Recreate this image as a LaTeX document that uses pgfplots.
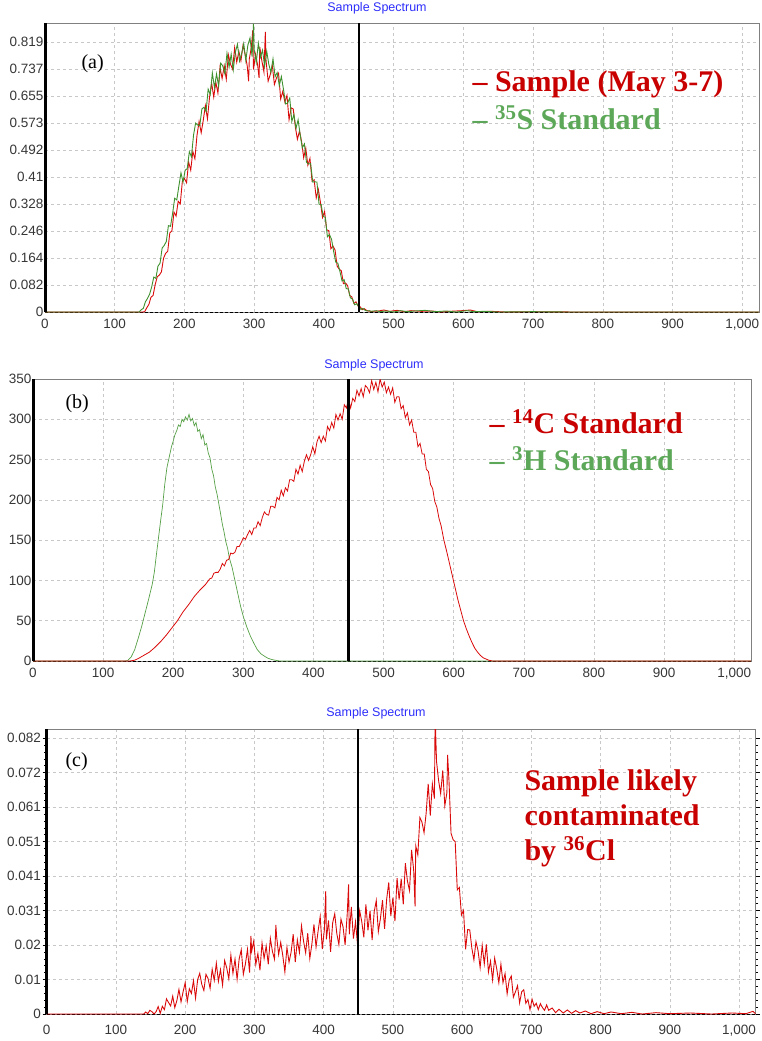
\documentclass[border=0pt]{standalone}
\usepackage{fontspec}
\setmainfont{Liberation Serif}
\newfontfamily\sansf{Liberation Sans}
\usepackage{pgfplots}
\pgfplotsset{compat=1.18}
\definecolor{cred}{RGB}{218,10,10}
\definecolor{cgreen}{RGB}{62,145,45}
\definecolor{cgreenb}{RGB}{85,160,70}
\definecolor{tred}{RGB}{200,0,0}
\definecolor{tgreen}{RGB}{92,168,88}
\definecolor{gridc}{RGB}{200,200,200}
\definecolor{titleblue}{RGB}{45,45,250}
\definecolor{ticktext}{RGB}{55,55,55}

\pgfplotsset{
  spec/.style={
    scale only axis, anchor=north west,
    xmin=0, xmax=1024,
    xtick={0,100,...,1000},
    xticklabels={0,100,200,300,400,500,600,700,800,900,{1,000}},
    grid=major,
    grid style={gridc, dash pattern=on 3pt off 3pt, line width=0.6pt},
    axis line style={draw=gray, line width=0.7pt},
    major tick length=0pt,
    tick label style={font=\sansf\fontsize{13.5}{13.5}\selectfont, text=ticktext},
    /pgf/number format/assume math mode=true,
    scaled y ticks=false,
    xticklabel style={yshift=-4pt},
    yticklabel style={inner sep=1.5pt},
  }
}

\begin{document}
\begin{tikzpicture}
\useasboundingbox (0,0) rectangle (762pt,-1041pt);

% ---------------- Panel (a) ----------------
\begin{axis}[spec, name=A, at={(45pt,-23pt)}, width=714pt, height=289pt,
  ymin=0, ymax=0.8766,
  ytick={0,0.0819,0.1638,0.2457,0.3276,0.4095,0.4914,0.5733,0.6552,0.7371,0.819},
  yticklabels={0,0.082,0.164,0.246,0.328,0.41,0.492,0.573,0.655,0.737,0.819}]
\draw[black, dash pattern=on 3pt off 2pt, line width=0.8pt] (axis cs:0,0) -- (axis cs:1024,0);
\addplot[cred, line width=0.9pt] coordinates {
(0,0) (140,0) (143,0.001) (146,0.013) (149,0.023) (152,0.045) (155,0.05) (158,0.083) (161,0.107) (164,0.112)
(167,0.122) (170,0.163) (173,0.178) (176,0.184) (179,0.24) (182,0.246) (185,0.303) (188,0.291) (191,0.336) (194,0.328)
(197,0.397) (200,0.405) (203,0.392) (206,0.455) (209,0.43) (212,0.487) (215,0.465) (218,0.536) (221,0.578) (224,0.544)
(227,0.582) (230,0.626) (233,0.586) (236,0.652) (239,0.694) (242,0.652) (245,0.697) (248,0.664) (251,0.742) (254,0.708)
(257,0.747) (260,0.706) (263,0.78) (266,0.752) (269,0.737) (272,0.802) (275,0.758) (278,0.791) (281,0.762) (284,0.809)
(287,0.782) (290,0.747) (292,0.70) (293,0.767) (296,0.804) (298,0.855) (299,0.735) (302,0.782) (305,0.748) (307,0.71)
(308,0.804) (311,0.762) (314,0.728) (316,0.85) (317,0.764) (320,0.70) (323,0.72) (326,0.748) (329,0.69) (332,0.71)
(335,0.724) (338,0.646) (341,0.669) (344,0.637) (347,0.657) (350,0.583) (353,0.619) (356,0.616) (359,0.562) (362,0.524)
(365,0.549) (368,0.517) (371,0.468) (374,0.497) (377,0.445) (380,0.466) (383,0.397) (386,0.401) (389,0.346) (392,0.372)
(395,0.333) (398,0.287) (401,0.305) (404,0.249) (407,0.247) (410,0.192) (413,0.2) (416,0.188) (419,0.139) (422,0.13)
(425,0.125) (428,0.086) (431,0.088) (434,0.08) (437,0.05) (440,0.046) (443,0.026) (446,0.031) (449,0.018) (452,0.016)
(455,0.007) (458,0.01) (461,0.005) (464,0.003) (467,0.002) (470,0.002) (478,0.003) (486,0.006) (494,0.002) (505,0.005)
(515,0.001) (525,0.004) (540,0.002) (555,0.003) (568,0.0) (580,0.002) (598,0.004) (610,0.006) (620,0.001) (640,0.002)
(660,0.0) (700,0.001) (760,0.0) (1024,0)
};
\addplot[cgreen, line width=0.9pt] coordinates {
(0,0) (135,0) (138,0.007) (141,0.011) (144,0.031) (147,0.041) (150,0.054) (153,0.076) (156,0.106) (159,0.102)
(162,0.139) (165,0.148) (168,0.194) (171,0.202) (174,0.214) (177,0.262) (180,0.26) (183,0.299) (186,0.345) (189,0.34)
(192,0.382) (195,0.422) (198,0.394) (201,0.43) (204,0.435) (207,0.486) (210,0.471) (213,0.536) (216,0.573) (219,0.567)
(222,0.565) (225,0.616) (228,0.621) (231,0.608) (234,0.676) (237,0.66) (240,0.725) (243,0.681) (246,0.722) (249,0.685)
(252,0.755) (255,0.746) (258,0.722) (261,0.785) (264,0.743) (267,0.782) (270,0.734) (273,0.788) (276,0.812) (279,0.761)
(282,0.784) (285,0.814) (288,0.763) (291,0.81) (294,0.831) (297,0.775) (299,0.875) (300,0.796) (303,0.757) (306,0.815)
(309,0.773) (312,0.794) (315,0.746) (318,0.791) (321,0.751) (324,0.727) (327,0.768) (330,0.714) (333,0.726) (336,0.687)
(339,0.714) (342,0.676) (345,0.631) (348,0.634) (351,0.649) (354,0.578) (357,0.599) (360,0.557) (363,0.583) (366,0.537)
(369,0.498) (372,0.51) (375,0.454) (378,0.449) (381,0.45) (384,0.394) (387,0.395) (390,0.394) (393,0.327) (396,0.326)
(399,0.29) (402,0.287) (405,0.228) (408,0.235) (411,0.22) (414,0.183) (417,0.151) (420,0.148) (423,0.123) (426,0.094)
(429,0.098) (432,0.071) (435,0.07) (438,0.043) (441,0.039) (444,0.022) (447,0.025) (450,0.016) (453,0.008) (456,0.011)
(459,0.005) (462,0.003) (465,0.004) (468,0.002) (475,0.004) (480,0.001) (490,0.003) (500,0.0) (510,0.004) (520,0.001)
(530,0.003) (545,0.005) (560,0.001) (575,0.003) (590,0.0) (605,0.004) (615,0.001) (630,0.002) (650,0) (700,0.001)
(750,0) (1024,0)
};
\addplot[black, line width=2.4pt] coordinates {(450,0) (450,0.8766)};
\end{axis}
\draw[black, line width=3pt] (A.south west) -- (A.north west);
\node[font=\sansf\fontsize{12.5}{12.5}\selectfont, text=titleblue] at (377pt,-8pt) {Sample Spectrum};
\node[anchor=base west, font=\fontsize{20}{20}\selectfont] at (78pt,-69pt) {(a)};
\node[anchor=base west, text=tred, font=\bfseries\fontsize{30}{30}\selectfont] at (469pt,-92pt) {\textendash\ Sample (May 3-7)};
\node[anchor=base west, text=tgreen, font=\bfseries\fontsize{30}{30}\selectfont] at (469pt,-129pt) {\textendash\ \textsuperscript{35}S Standard};

% ---------------- Panel (b) ----------------
\begin{axis}[spec, name=B, at={(33pt,-379pt)}, width=718pt, height=282pt,
  ymin=0, ymax=350, ytick={0,50,...,350}]
\draw[black, dash pattern=on 3pt off 2pt, line width=0.8pt] (axis cs:0,0) -- (axis cs:1024,0);
\addplot[cgreenb, line width=0.7pt] coordinates {
(0,0) (130,0) (135,0.5) (140,5) (145,14) (150,28) (155,43) (160,60) (165,77) (170,95)
(173,110) (176,132) (179,153) (182,174) (185,194) (188,220) (191,240) (193,248) (195,256) (197.5,266)
(200,273) (202.5,281) (205,286) (207.5,293) (210,291) (212.5,300) (215,297) (217.5,303) (220,299) (222.5,306)
(225,298) (227.5,301) (230,292) (232.5,296) (235,285) (237.5,287) (240,276) (242.5,281) (245,268) (247.5,270)
(250,258) (252.5,252) (255,238) (257.5,230) (260,216) (262.5,207) (265,195) (267.5,183) (270,170) (272.5,160)
(275,148) (277.5,140) (280,128) (284,116) (287,104) (290,92) (293,80) (296,68) (300,55) (305,42)
(310,31) (315,22) (320,14) (325,9) (330,6) (335,3.5) (340,2) (345,1) (352,0) (1024,0)
};
\addplot[cred, line width=0.8pt] coordinates {
(0,0) (138,0) (145,1) (150,3) (158,7) (166,11) (174,17) (182,24) (190,32) (198,41)
(206,50) (214,61) (222,70) (230,80) (238,88) (246,95) (252,102) (255,103) (258,109) (261,110)
(264,110) (267,114) (270,121) (273,118) (276,125) (279,126) (282,134) (285,133) (288,135) (291,142)
(294,142) (297,147) (300,153) (303,151) (306,157) (309,162) (312,157) (315,165) (318,165) (321,173)
(324,168) (327,178) (330,185) (333,182) (336,181) (339,192) (342,192) (345,190) (348,203) (351,200)
(354,212) (357,205) (360,215) (363,211) (366,225) (369,225) (372,223) (375,238) (378,232) (381,243)
(384,235) (387,248) (390,256) (393,249) (396,256) (399,266) (402,257) (405,272) (408,279) (411,271)
(414,279) (417,273) (420,291) (423,286) (426,296) (429,289) (432,306) (435,299) (438,307) (441,300)
(444,318) (447,314) (450,325) (453,314) (456,326) (459,322) (462,336) (465,329) (468,338) (471,328)
(474,342) (477,339) (480,333) (483,348) (486,337) (489,346) (492,334) (495,350) (498,340) (501,346)
(504,333) (507,340) (510,331) (513,339) (516,321) (519,328) (522,328) (525,313) (528,317) (531,302)
(534,308) (537,293) (540,299) (543,284) (546,284) (549,266) (552,270) (555,257) (558,257) (561,238)
(564,235) (567,219) (570,214) (573,198) (576,191) (579,177) (582,168) (586,150) (590,136) (594,121)
(598,106) (602,91) (606,76) (610,63) (614,50) (618,40) (622,31) (626,23) (630,16) (634,11)
(638,7) (642,4) (646,2.5) (650,1) (655,0) (1024,0)
};
\addplot[black, line width=2.4pt] coordinates {(450,0) (450,350)};
\end{axis}
\draw[black, line width=3pt] (B.south west) -- (B.north west);
\node[font=\sansf\fontsize{12.5}{12.5}\selectfont, text=titleblue] at (374pt,-365pt) {Sample Spectrum};
\node[anchor=base west, font=\fontsize{20}{20}\selectfont] at (62pt,-408pt) {(b)};
\node[anchor=base west, text=tred, font=\bfseries\fontsize{30}{30}\selectfont] at (486pt,-433pt) {\textendash\ \textsuperscript{14}C Standard};
\node[anchor=base west, text=tgreen, font=\bfseries\fontsize{30}{30}\selectfont] at (486pt,-470pt) {\textendash\ \textsuperscript{3}H Standard};

% ---------------- Panel (c) ----------------
\begin{axis}[spec, name=C, at={(46.7pt,-729pt)}, width=709pt, height=285pt,
  ymin=0, ymax=0.0847,
  ytick={0,0.01025,0.0205,0.03075,0.041,0.05125,0.0615,0.07175,0.082},
  yticklabels={0,0.01,0.02,0.031,0.041,0.051,0.061,0.072,0.082},
  minor y tick num=4, tick align=outside,
  major tick length=4pt, minor tick length=2.5pt,
  xtick style={draw=none},
  ytick style={black, line width=0.5pt},
  minor tick style={black, line width=0.5pt}]
\draw[black, dash pattern=on 3pt off 2pt, line width=0.8pt] (axis cs:0,0) -- (axis cs:1024,0);
\addplot[cred, line width=0.9pt] coordinates {
(0,0) (140,0) (143,0.0006) (146,0.0001) (149,0.0011) (152,0.0007) (155,0) (158,0.0007) (161,0.0022) (164,0.0002)
(167,0.0023) (170,0.0013) (173,0.0045) (176,0.0034) (179,0.0024) (182,0.0053) (185,0.0019) (188,0.004) (191,0.0073) (194,0.0036)
(197,0.0066) (200,0.0093) (203,0.0037) (206,0.0075) (209,0.0061) (212,0.0099) (215,0.0047) (218,0.0102) (221,0.0121) (224,0.0088)
(227,0.007) (230,0.0118) (233,0.0106) (236,0.0076) (239,0.0133) (242,0.01) (245,0.0151) (248,0.0097) (251,0.0132) (254,0.0086)
(257,0.0159) (260,0.0137) (263,0.0105) (266,0.0175) (269,0.0121) (272,0.0163) (275,0.0103) (278,0.0164) (281,0.0191) (284,0.0118)
(287,0.0149) (290,0.0192) (293,0.0123) (295,0.0232) (296,0.0186) (299,0.0217) (302,0.0147) (305,0.018) (308,0.013) (311,0.0211)
(314,0.0165) (317,0.0202) (320,0.0148) (323,0.0225) (326,0.0186) (329,0.0163) (331,0.0265) (332,0.0232) (335,0.0177) (338,0.0213)
(341,0.0173) (344,0.0125) (347,0.0198) (350,0.0154) (353,0.0184) (356,0.0237) (359,0.0154) (362,0.022) (365,0.0183) (368,0.0262)
(371,0.0216) (374,0.0182) (377,0.024) (380,0.0165) (383,0.0208) (386,0.0266) (389,0.0199) (392,0.0247) (395,0.029) (398,0.0193)
(401,0.025) (403,0.0365) (404,0.0222) (407,0.0278) (410,0.0185) (413,0.0271) (416,0.0298) (419,0.0239) (422,0.0206) (425,0.0282)
(428,0.0259) (431,0.0205) (434,0.0296) (436,0.0385) (437,0.0237) (440,0.0318) (443,0.0224) (446,0.0274) (449,0.0205) (452,0.0307)
(455,0.0275) (458,0.0228) (461,0.0326) (464,0.0249) (467,0.0307) (470,0.022) (473,0.0304) (476,0.0337) (479,0.0245) (482,0.0284)
(485,0.0338) (488,0.0253) (491,0.0341) (494,0.0391) (497,0.0291) (500,0.0346) (503,0.0276) (506,0.0404) (509,0.034) (512,0.0402)
(515,0.0326) (518,0.0448) (521,0.0395) (524,0.0367) (527,0.0488) (530,0.0428) (532,0.032) (533,0.05) (536,0.0473) (539,0.0584)
(542,0.057) (545,0.0539) (548,0.0596) (551,0.0684) (554,0.059) (557,0.0684) (560,0.064) (561,0.089) (563,0.0751) (566,0.0694)
(569,0.0655) (572,0.0724) (575,0.0619) (578,0.0658) (579,0.077) (581,0.0694) (584,0.0537) (587,0.0518) (590,0.0512) (593,0.0369)
(596,0.0376) (599,0.0294) (602,0.0308) (605,0.0192) (608,0.0251) (611,0.025) (614,0.0196) (617,0.0161) (620,0.0215) (623,0.0188)
(626,0.0138) (629,0.0204) (632,0.0149) (635,0.0207) (638,0.0125) (641,0.0157) (644,0.0101) (647,0.0166) (650,0.0134) (653,0.0093)
(656,0.0148) (659,0.0093) (662,0.012) (665,0.006) (668,0.0101) (671,0.0113) (674,0.005) (677,0.0066) (680,0.0084) (683,0.0033)
(686,0.0066) (689,0.0072) (692,0.0032) (695,0.0043) (698,0.0013) (701,0.0044) (704,0.0023) (707,0.0032) (710,0.0013) (713,0.0031)
(716,0.0019) (719,0.0011) (722,0.0027) (725,0.0011) (730,0.0018) (735,0.0004) (740,0.0014) (746,0.0003) (752,0.0012) (758,0.0002)
(764,0.001) (770,0.0003) (778,0.0009) (786,0.0001) (795,0.0007) (805,0.0001) (815,0.0006) (830,0.0001) (845,0.0005) (860,0.0)
(880,0.0004) (900,0.0001) (930,0.0003) (960,0.0) (990,0.0003) (1010,0.0001) (1020,0.0008) (1024,0)
};
\addplot[black, line width=2.4pt] coordinates {(450,0) (450,0.0847)};
\end{axis}
\draw[black, line width=3pt] (C.south west) -- (C.north west);
\node[font=\sansf\fontsize{12.5}{12.5}\selectfont, text=titleblue] at (376pt,-713pt) {Sample Spectrum};
\node[anchor=base west, font=\fontsize{20}{20}\selectfont] at (62pt,-766pt) {(c)};
\node[anchor=base west, text=tred, font=\bfseries\fontsize{30}{30}\selectfont] at (521pt,-790pt) {Sample likely};
\node[anchor=base west, text=tred, font=\bfseries\fontsize{30}{30}\selectfont] at (521pt,-825pt) {contaminated};
\node[anchor=base west, text=tred, font=\bfseries\fontsize{30}{30}\selectfont] at (521pt,-860pt) {by \textsuperscript{36}Cl};
\end{tikzpicture}
\end{document}
